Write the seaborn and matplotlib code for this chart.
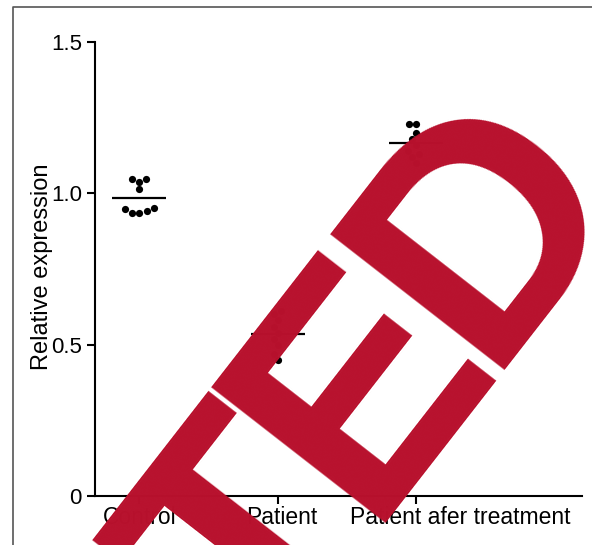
import math
import matplotlib
matplotlib.use("Agg")
import matplotlib.pyplot as plt
from matplotlib.lines import Line2D
from matplotlib.textpath import TextPath
from matplotlib.font_manager import FontProperties
from matplotlib.transforms import ScaledTranslation
import numpy as np
import pandas as pd
import seaborn as sns

# Relative expression per group
groups = ["Control", "Patient", "Patient afer treatment"]
control = [1.046, 1.037, 1.046, 1.013, 0.947, 0.935, 0.935, 0.940, 0.950]
patient = [0.61, 0.60, 0.58, 0.56, 0.54, 0.52, 0.50, 0.47, 0.45]
after_treatment = [1.228, 1.228, 1.20, 1.18, 1.16, 1.14, 1.13, 1.12, 1.10]
y_ticks = [0, 0.5, 1.0, 1.5]
y_tick_labels = ["0", "0.5", "1.0", "1.5"]
stamp_text = "RETRACTED"

df = pd.DataFrame({
    "group": (["Control"] * len(control) + ["Patient"] * len(patient)
              + ["Patient afer treatment"] * len(after_treatment)),
    "value": control + patient + after_treatment,
})

sns.set_theme(style="ticks")
plt.rcParams["font.family"] = ["Liberation Sans", "DejaVu Sans"]

W, H, DPI = 592, 545, 100
fig = plt.figure(figsize=(W / DPI, H / DPI), dpi=DPI)
ax = fig.add_axes([95 / W, 49 / H, 487 / W, 454 / H])

sns.swarmplot(data=df, x="group", y="value", order=groups, color="black",
              size=5.2, ax=ax, zorder=3)

# mean lines
for i, vals in enumerate([control, patient, after_treatment]):
    m = float(np.mean(vals))
    ax.hlines(m, i - 0.195, i + 0.195, color="black", lw=1.6, zorder=2)

ax.set_xlim(-0.321, 3.195)
ax.set_ylim(0, 1.5)
ax.set_yticks(y_ticks)
ax.set_yticklabels(y_tick_labels)
ax.set_xlabel("")
ax.set_ylabel("Relative expression", fontsize=17, color="black")
ax.yaxis.set_label_coords(-0.087, 0.505)

for side in ["top", "right"]:
    ax.spines[side].set_visible(False)
for side in ["left", "bottom"]:
    ax.spines[side].set_linewidth(1.5)
    ax.spines[side].set_color("black")
ax.tick_params(axis="both", direction="out", length=6, width=1.5,
               colors="black", labelsize=16)
ax.tick_params(axis="x", pad=1, labelsize=16.5)
ax.tick_params(axis="y", pad=3.5)

# shift the category labels to their printed positions
offsets_px = [0, 4.0, 44.0]
for lab, dx in zip(ax.get_xticklabels(), offsets_px):
    lab.set_transform(lab.get_transform() + ScaledTranslation(dx / DPI, 0, fig.dpi_scale_trans))

# outer frame
fig.add_artist(Line2D([12.5 / W, 12.5 / W, 1.02], [-0.02, 537.7 / H, 537.7 / H],
                      transform=fig.transFigure, color="#555555", lw=1.2))

# retraction stamp, set letter by letter along a 52 degree baseline with a
# tighter letter spacing than the font's own
fp = FontProperties(family="Liberation Sans", weight="bold")
ref = 100.0


def ext(s):
    return TextPath((0, 0), s, size=ref, prop=fp).get_extents()


# ink-left of every letter within the whole word (reference size, points)
ink_left = [ext(stamp_text[:i + 1]).x1 - ext(ch).width for i, ch in enumerate(stamp_text)]
cap = ext("T").y1

theta = math.radians(52.1)
u = np.array([math.cos(theta), math.sin(theta)])
cap_px, t_to_d_px = 221.0, 388.0
k = cap_px / cap                      # pixels per reference point
track = t_to_d_px / (k * (ink_left[8] - ink_left[6]))
d_base = np.array([505.0, H - 370.0])  # lower-left corner of the final D
stamp_size = k * ref * 72 / DPI

for i, ch in enumerate(stamp_text):
    base = d_base + (ink_left[i] - ink_left[8]) * k * track * u
    # Agg offsets a rotated glyph bitmap horizontally by its left bearing
    anchor = base - np.array([k * ext(ch).x0, 0.0])
    fig.text(anchor[0] / W, anchor[1] / H, ch, rotation=math.degrees(theta),
             rotation_mode="anchor", ha="left", va="baseline", fontsize=stamp_size,
             fontweight="bold", color="#B8112D", family="Liberation Sans", zorder=10)

fig.savefig("out.png", dpi=DPI)
